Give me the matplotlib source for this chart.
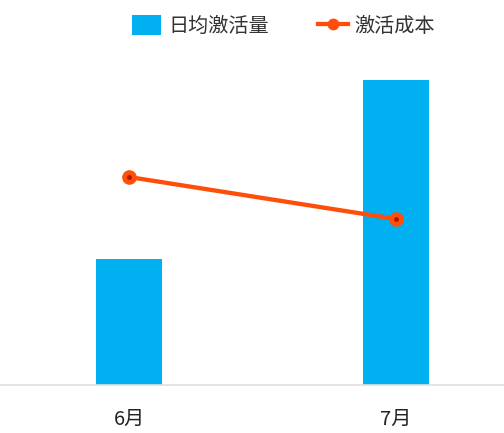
import numpy as np
import matplotlib.pyplot as plt
from matplotlib.lines import Line2D
from matplotlib.patches import Patch

plt.rcParams['font.family'] = ['Noto Sans CJK SC', 'DejaVu Sans']

# data (arbitrary units)
months = ['6月', '7月']
daily_activations = [126, 305]
activation_cost = [208, 166]

bar_color = '#00B0F0'
line_color = '#FF4E0A'

fig = plt.figure(figsize=(5.04, 4.33), dpi=100)
ax = fig.add_axes([0, 48 / 433, 1, 345 / 433])

x = np.arange(len(months))
ax.bar(x, daily_activations, width=0.247, color=bar_color, zorder=2)
ax.plot(x, activation_cost, color=line_color, lw=3.1, zorder=3,
        marker='o', markersize=9.5, markerfacecolor=line_color,
        markeredgecolor=line_color)
# dark centre dot of the markers
ax.plot(x, activation_cost, ls='none', marker='o', markersize=2.5,
        color='#B01800', zorder=4)

ax.set_xlim(-129 / 267, 375 / 267)
ax.set_ylim(0, 345)
ax.set_yticks([])
ax.set_xticks(x)
ax.set_xticklabels(months, fontsize=14.5, color='#222222')
ax.tick_params(axis='x', length=0, pad=17)
for s in ['top', 'left', 'right']:
    ax.spines[s].set_visible(False)
ax.spines['bottom'].set_color('#e0e0e0')
ax.spines['bottom'].set_linewidth(1.2)

handles = [
    Patch(facecolor=bar_color, edgecolor='none', label='日均激活量'),
    Line2D([0], [0], color=line_color, lw=3.1, marker='o', markersize=7.5,
           markerfacecolor=line_color, label='激活成本'),
]
fig.legend(handles=handles, loc='center left', bbox_to_anchor=(114 / 504, 1 - 26 / 433),
           ncol=2, frameon=False, fontsize=14.5, handlelength=1.45, handleheight=1.1,
           handletextpad=0.35, columnspacing=2.45, labelcolor='#333333')

fig.savefig('out.png', dpi=100)
